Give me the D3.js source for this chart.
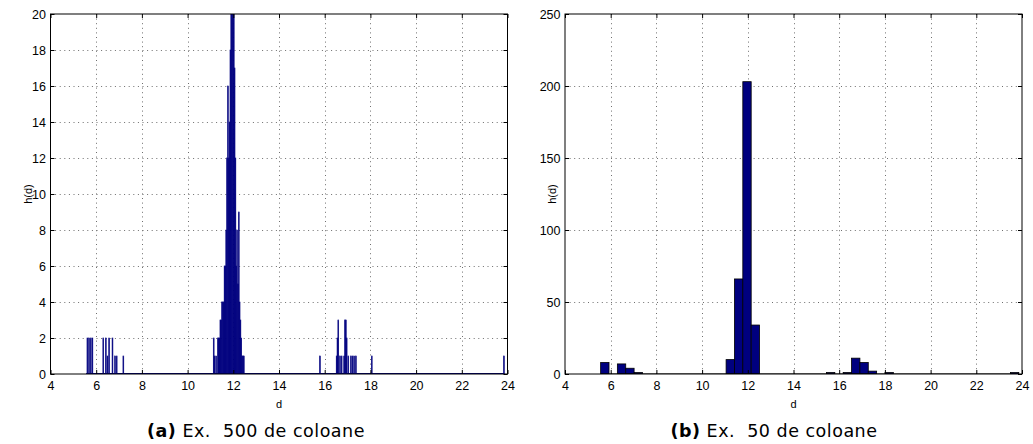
<!DOCTYPE html>
<html>
<head>
<meta charset="utf-8">
<script src="https://cdn.jsdelivr.net/npm/d3@7"></script>
<style>
  body { margin: 0; background: #fff; }
  text { font-family: "Liberation Sans", Arial, sans-serif; }
</style>
</head>
<body>
<svg id="fig" width="1033" height="444"></svg>
<script>
// range of the data that was binned
const histMin = 5.56
const histMax = 23.86

// (b) 50 bins
const counts50 = [8, 0, 7, 4, 1, 0, 0, 0, 0, 0,
                  0, 0, 0, 0, 0, 10, 66, 203, 34, 0,
                  0, 0, 0, 0, 0, 0, 0, 1, 0, 1,
                  11, 8, 2, 0, 1, 0, 0, 0, 0, 0,
                  0, 0, 0, 0, 0, 0, 0, 0, 0, 1]

// (a) 500 bins, only the non empty ones (bin index -> count)
const bins500 = [1, 3, 5, 7,
                 20, 23, 25, 27, 31, 34, 36, 44,
                 152, 153, 155, 157, 158, 159,
                 160, 161, 162, 163, 164, 165, 166, 167, 168, 169,
                 170, 171, 172, 173, 174, 175, 176, 177, 178, 179,
                 180, 181, 182, 183, 184, 185, 186, 187, 188,
                 279, 299,
                 300, 301, 303, 305, 308, 309,
                 310, 311, 313, 316, 318, 320, 322,
                 341, 499]
const counts500 = [2, 2, 2, 2,
                   2, 2, 1, 2, 2, 1, 1, 1,
                   2, 1, 1, 2, 2, 2,
                   3, 3, 4, 4, 4, 6, 6, 8, 12, 16,
                   12, 14, 18, 24, 40, 38, 22, 17, 12, 6,
                   8, 5, 9, 4, 3, 2, 1, 1, 1,
                   1, 1,
                   2, 3, 1, 1, 1, 3,
                   3, 2, 1, 1, 1, 1, 1,
                   1, 1]

const xTicks = [4, 6, 8, 10, 12, 14, 16, 18, 20, 22, 24]
const yTicksA = [0, 2, 4, 6, 8, 10, 12, 14, 16, 18, 20]
const yTicksB = [0, 50, 100, 150, 200, 250]

const BAR = "#00007f"
const svg = d3.select("#fig")

function panel(id, left, yMax, yTicks, bars, nBins, fine, caption, capLabel, capX, ylabX) {
  const top = 14, bottom = 374, right = left + 457
  const x = d3.scaleLinear().domain([4, 24]).range([left, right])
  const y = d3.scaleLinear().domain([0, yMax]).range([bottom, top])
  const w = (histMax - histMin) / nBins

  const g = svg.append("g")

  g.append("clipPath").attr("id", "clip" + id)
    .append("rect").attr("x", left).attr("y", top)
    .attr("width", right - left).attr("height", bottom - top)

  // dotted grid
  const grid = g.append("g").attr("stroke", "#6e6e6e").attr("stroke-width", 1)
    .attr("stroke-dasharray", "1,3.6")
  grid.selectAll(".gx").data(xTicks.slice(1, -1)).join("line")
    .attr("x1", d => Math.round(x(d)) + 0.5).attr("x2", d => Math.round(x(d)) + 0.5)
    .attr("y1", top).attr("y2", bottom)
  grid.selectAll(".gy").data(yTicks.slice(1, -1)).join("line")
    .attr("y1", d => Math.round(y(d)) + 0.5).attr("y2", d => Math.round(y(d)) + 0.5)
    .attr("x1", left).attr("x2", right)

  // bars
  const bg = g.append("g").attr("clip-path", `url(#clip${id})`)
  bg.selectAll("rect").data(bars).join("rect")
    .attr("x", d => x(histMin + d.bin * w))
    .attr("width", x(histMin + w) - x(histMin))
    .attr("y", d => y(d.count))
    .attr("height", d => y(0) - y(d.count))
    .attr("fill", BAR)
    .attr("stroke", fine ? BAR : "#000")
    .attr("stroke-width", fine ? 0.6 : 0.8)

  // empty bins lie flat on the baseline
  bg.append("line")
    .attr("x1", x(histMin)).attr("x2", x(histMax))
    .attr("y1", y(0)).attr("y2", y(0))
    .attr("stroke", fine ? BAR : "#000").attr("stroke-width", fine ? 2 : 1.2)

  // axes, ticks pointing inward
  const ax = g.append("g")
  ax.append("g").attr("transform", `translate(0,${bottom})`)
    .call(d3.axisBottom(x).tickValues(xTicks).tickSizeInner(-4).tickSizeOuter(0).tickPadding(7))
  ax.append("g").attr("transform", `translate(0,${top})`)
    .call(d3.axisTop(x).tickValues(xTicks).tickSizeInner(-4).tickSizeOuter(0).tickFormat(""))
  ax.append("g").attr("transform", `translate(${left},0)`)
    .call(d3.axisLeft(y).tickValues(yTicks).tickSizeInner(-4).tickSizeOuter(0).tickPadding(4.5))
  ax.append("g").attr("transform", `translate(${right},0)`)
    .call(d3.axisRight(y).tickValues(yTicks).tickSizeInner(-4).tickSizeOuter(0).tickFormat(""))
  ax.selectAll(".domain").remove()
  ax.selectAll("text").attr("fill", "#000")
    .attr("font-size", 12.5).attr("font-family", "Liberation Sans, Arial, sans-serif")
  ax.selectAll("line").attr("stroke", "#000")

  g.append("rect").attr("x", left).attr("y", top)
    .attr("width", right - left).attr("height", bottom - top)
    .attr("fill", "none").attr("stroke", "#000").attr("stroke-width", 1)

  g.append("text").attr("x", (left + right) / 2).attr("y", 408)
    .attr("text-anchor", "middle").attr("font-size", 11).text("d")
  g.append("text")
    .attr("transform", `translate(${ylabX},${(top + bottom) / 2}) rotate(-90)`)
    .attr("text-anchor", "middle").attr("font-size", 11).text("h(d)")

  const cap = g.append("text").attr("x", capX).attr("y", 437)
    .attr("text-anchor", "middle").attr("font-size", 17.5)
    .attr("letter-spacing", 0.5)
    .style("font-family", "'DejaVu Sans', Verdana, sans-serif")
  cap.append("tspan").attr("font-weight", "bold").text(capLabel)
  cap.append("tspan").text(" " + caption)
}

const barsA = bins500.map((b, i) => ({bin: b, count: counts500[i]}))
const barsB = counts50.map((c, i) => ({bin: i, count: c})).filter(d => d.count > 0)

panel("a", 50.5, 20, yTicksA, barsA, 500, true, "Ex.\u00a0 500 de coloane", "(a)", 256, 32)
panel("b", 565, 250, yTicksB, barsB, 50, false, "Ex.\u00a0 50 de coloane", "(b)", 774, 556)
</script>
</body>
</html>
